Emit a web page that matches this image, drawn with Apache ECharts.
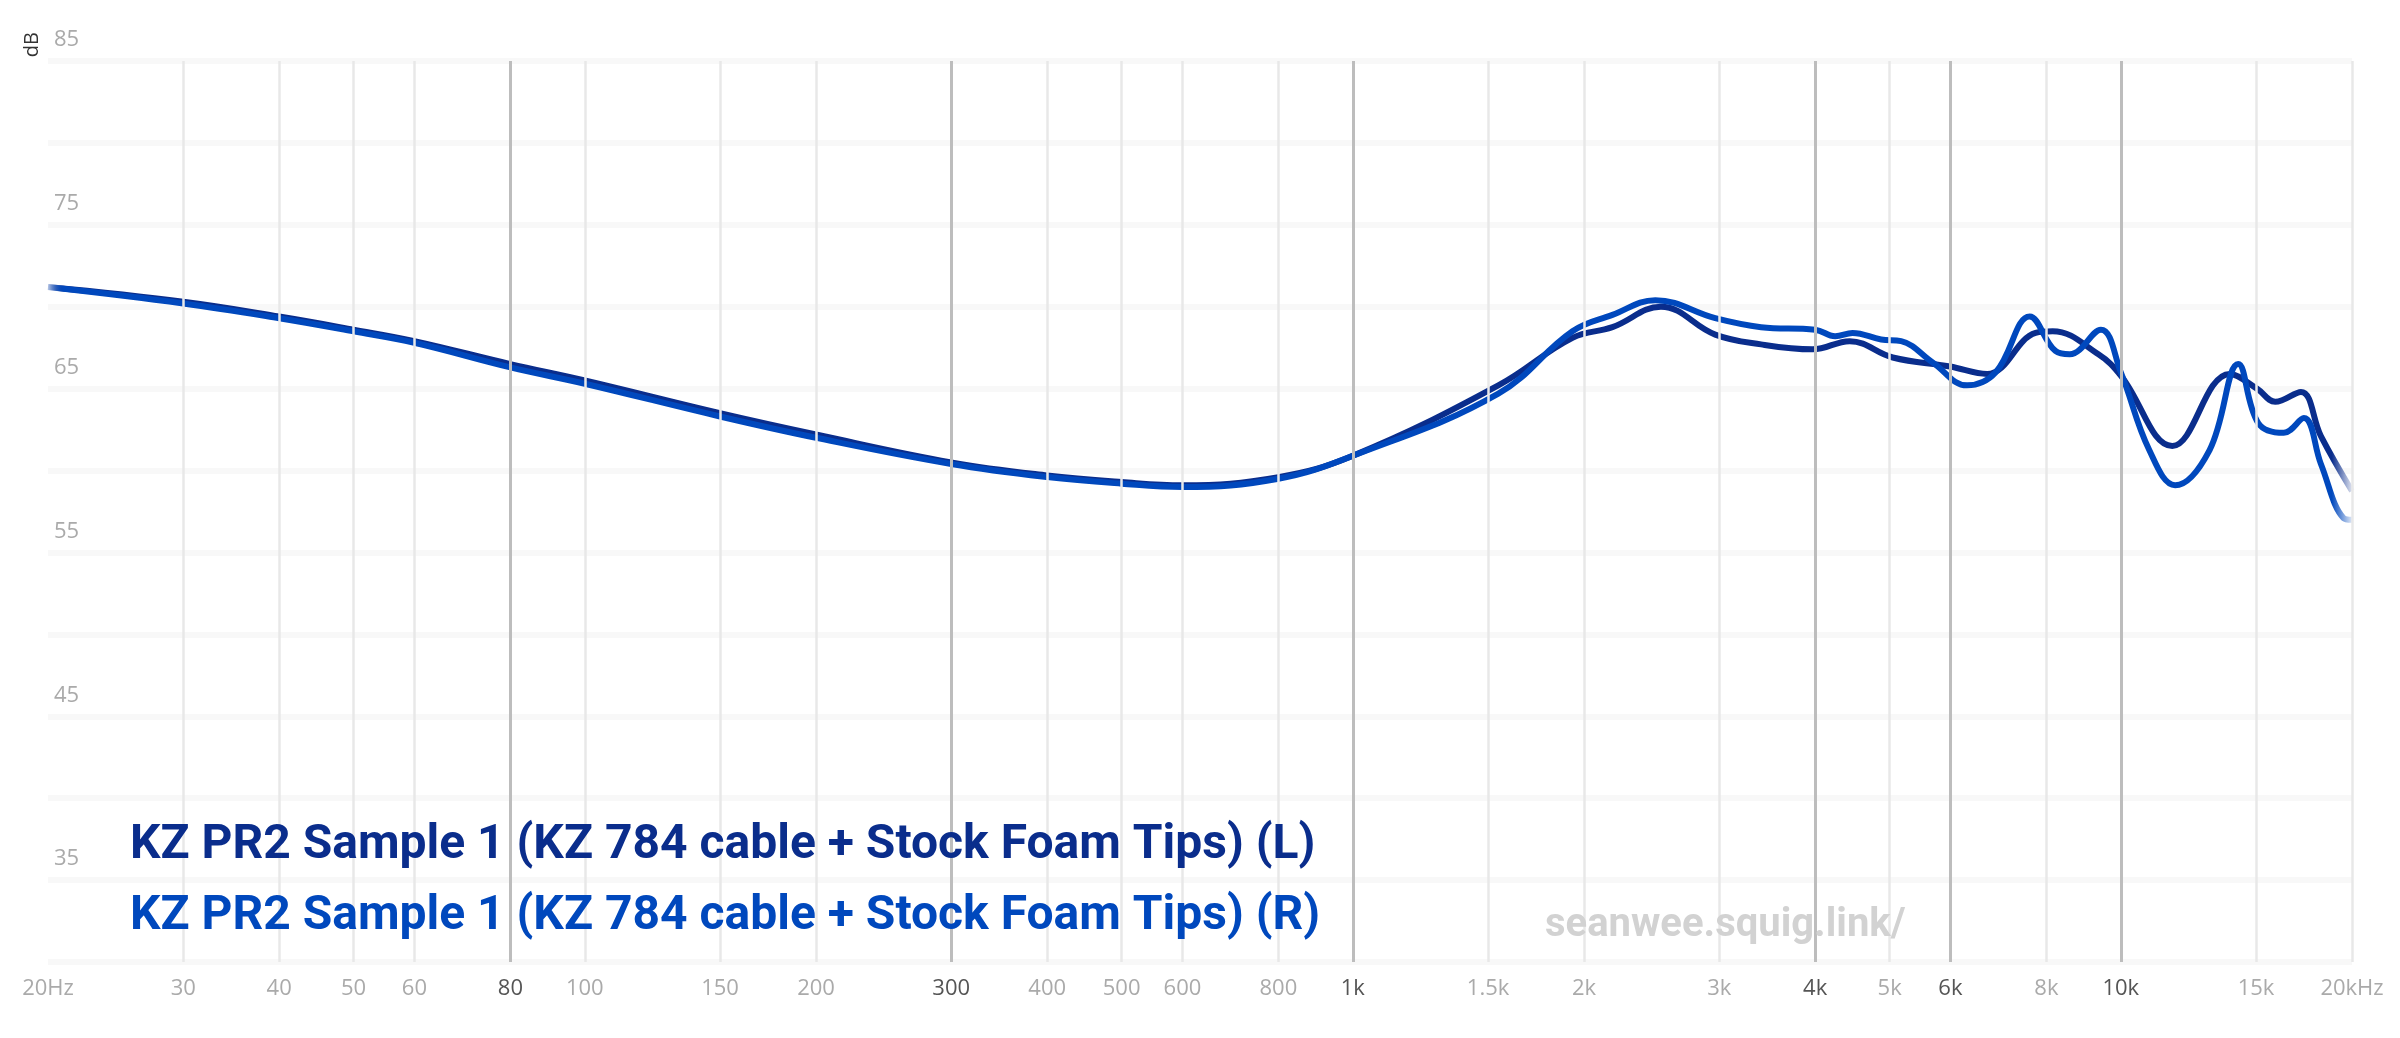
<!DOCTYPE html>
<html><head><meta charset="utf-8">
<script src="https://cdn.jsdelivr.net/npm/echarts@6/dist/echarts.min.js"></script>
<style>html,body{margin:0;padding:0;background:#fff}#c{width:2400px;height:1038px}</style>
</head><body><div id="c"></div>
<script>
const freqL = [20,30,40,50,60,80,100,150,200,300,400,500,600,800,1000,1547,1932,2178,2519,2964,3401,3970,4436,5047,5990,6697,7745,8150,9350,10000,11670,13860,15040,15890,17160,18220,20000];
const dbL   = [71.2,70.3,69.4,68.6,67.9,66.5,65.5,63.5,62.2,60.5,59.7,59.3,59.1,59.6,60.9,65.2,68.1,68.75,70.0,68.3,67.7,67.4,67.9,66.9,66.35,65.9,68.4,68.5,67.1,65.8,61.5,65.9,65.0,64.2,64.8,62.1,58.75];
const freqR = [20,30,40,50,60,80,100,150,200,300,400,500,600,800,1000,1547,1932,2178,2477,2964,3401,4000,4247,4474,4875,5176,5689,6306,6874,7610,8220,8580,9420,10000,10890,11770,13050,14220,15100,16300,17310,18220,19500,20000];
const dbR   = [71.2,70.2,69.3,68.5,67.8,66.3,65.3,63.3,62.0,60.4,59.6,59.2,59.0,59.5,60.9,64.7,68.5,69.5,70.4,69.3,68.75,68.6,68.2,68.4,68.0,67.9,66.6,65.2,66.0,69.4,67.3,67.1,68.6,66.0,61.25,59.1,61.25,66.5,62.9,62.3,63.2,60.4,57.1,57.0];
const gridFreqs = [30,40,50,60,80,100,150,200,300,400,500,600,800,1000,1500,2000,3000,4000,5000,6000,8000,10000,15000,20000];
const gridLabels = ['30','40','50','60','80','100','150','200','300','400','500','600','800','1k','1.5k','2k','3k','4k','5k','6k','8k','10k','15k','20kHz'];
const darkFreqs = [80,300,1000,4000,6000,10000];
const yLabels = [35,45,55,65,75,85];
const names = ['KZ PR2 Sample 1 (KZ 784 cable + Stock Foam Tips) (L)','KZ PR2 Sample 1 (KZ 784 cable + Stock Foam Tips) (R)'];
const colL = '#0a2d8c', colR = '#0048bd';

function fade(c){
  return new echarts.graphic.LinearGradient(0,0,1,0,[
    {offset:0,color:c+'00'},{offset:0.008,color:c},{offset:0.99,color:c},{offset:1,color:c+'00'}]);
}
const chart = echarts.init(document.getElementById('c'));
const mlData = gridFreqs.map((f,i)=>{
  const dark = darkFreqs.includes(f);
  return {xAxis:f, lineStyle:{color:dark?'#bdbdbd':'#e8e8e8',width:dark?3:2.5,type:'solid'},
    label:{formatter:gridLabels[i], color:dark?'#555':'#aaa'}};
});
mlData.push({xAxis:20,lineStyle:{color:'rgba(255,255,255,0)',width:1},label:{formatter:'20Hz',color:'#aaa'}});
chart.setOption({
  animation:false,
  grid:{left:48,right:48,top:61,bottom:76},
  xAxis:{type:'log',logBase:10,min:20,max:20000,axisLine:{show:false},axisTick:{show:false},axisLabel:{show:false},splitLine:{show:false},minorSplitLine:{show:false}},
  yAxis:{type:'value',min:30,max:85,interval:5,axisLine:{show:false},axisTick:{show:false},
    splitLine:{lineStyle:{color:'#f8f8f8',width:6}},
    axisLabel:{inside:true,margin:6,verticalAlign:'bottom',padding:[0,0,10,0],color:'#aaa',fontSize:22,fontFamily:'Open Sans',
      formatter:v=>yLabels.includes(v)?String(v):''}},
  series:[
    {type:'line',name:'guides',data:[],z:1,markLine:{silent:true,symbol:'none',
      label:{position:'start',distance:16,fontSize:22,fontFamily:'Open Sans'},data:mlData}},
    {type:'line',name:names[0],data:freqL.map((f,i)=>[f,dbL[i]]),smooth:0.4,showSymbol:false,symbol:'none',
      lineStyle:{width:6,color:fade(colL)},z:3},
    {type:'line',name:names[1],data:freqR.map((f,i)=>[f,dbR[i]]),smooth:0.4,showSymbol:false,symbol:'none',
      lineStyle:{width:6,color:fade(colR)},z:4}
  ],
  graphic:[
    {type:'text',z:100,left:22,top:32,rotation:Math.PI/2,style:{text:'dB',fontSize:20,fill:'#333',fontFamily:'Open Sans'}},
    {type:'text',z:100,left:130,top:822,style:{text:names[0],fontSize:48,fontWeight:'bold',fill:colL,fontFamily:'Roboto'}},
    {type:'text',z:100,left:130,top:893,style:{text:names[1],fontSize:48,fontWeight:'bold',fill:colR,fontFamily:'Roboto'}},
    {type:'text',z:100,left:1545,top:906,style:{text:'seanwee.squig.link/',fontSize:40,fontWeight:'bold',fill:'#d2d2d2',fontFamily:'Roboto'}}
  ]
});
</script></body></html>
